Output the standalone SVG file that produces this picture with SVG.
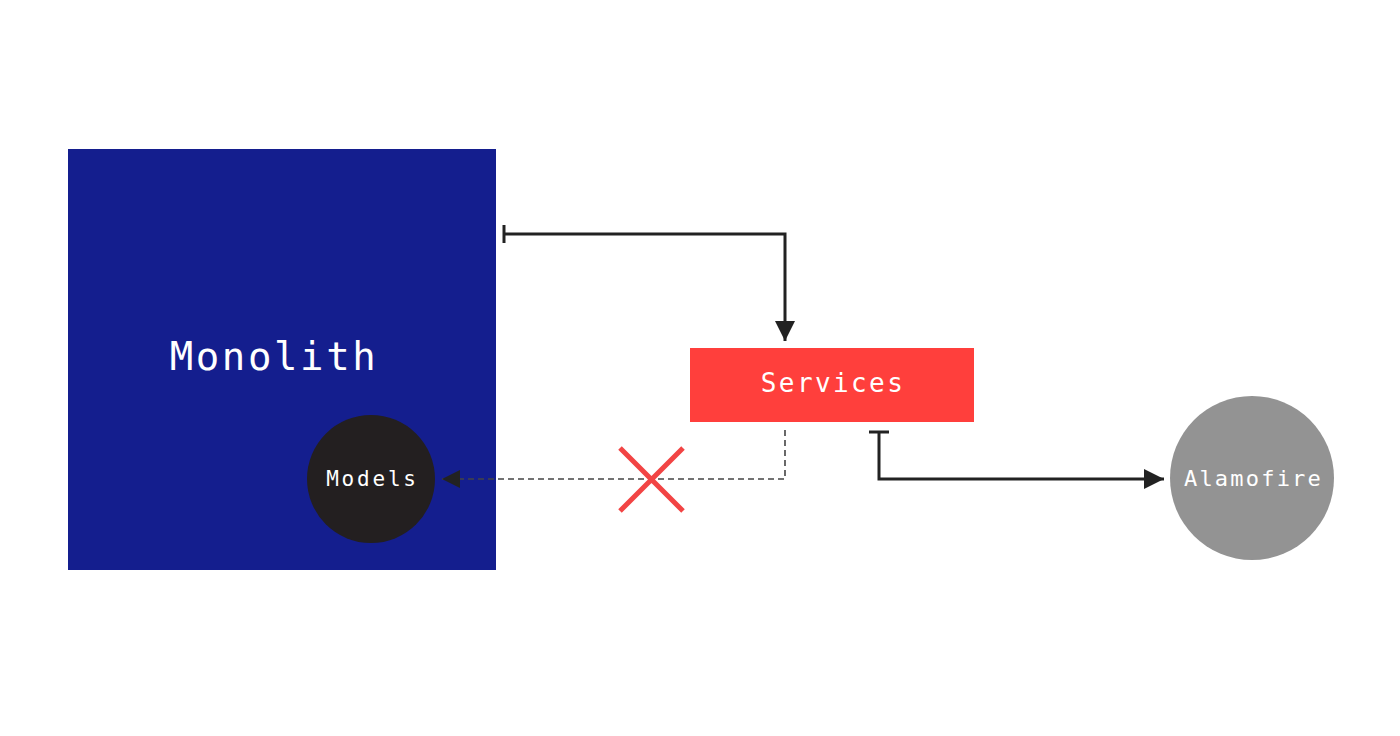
<svg xmlns="http://www.w3.org/2000/svg" width="1400" height="736" viewBox="0 0 1400 736">
<style>
.lbl{font-family:"DejaVu Sans Mono","Liberation Mono",monospace;fill:#ffffff;text-anchor:middle}
.solid{fill:none;stroke:#222222;stroke-width:3}
.dash{fill:none;stroke:#444444;stroke-width:1.6;stroke-dasharray:6 4}
</style>
<defs>
<marker id="arr" viewBox="0 0 20 20" refX="20" refY="10" markerWidth="20" markerHeight="20" markerUnits="userSpaceOnUse" orient="auto">
<path d="M0,0 L20,10 L0,20 Z" fill="#222222"/>
</marker>
<marker id="arrs" viewBox="0 0 18 18" refX="18" refY="9" markerWidth="18" markerHeight="18" markerUnits="userSpaceOnUse" orient="auto">
<path d="M0,0 L18,9 L0,18 Z" fill="#222222"/>
</marker>
</defs>
<rect width="1400" height="736" fill="#ffffff"/>
<g id="monolith">
<rect x="68" y="149" width="428" height="421" fill="#141E8E"/>
<text class="lbl" x="274" y="370" font-size="39" letter-spacing="2.6">Monolith</text>
</g>
<g id="models">
<circle cx="371" cy="479" r="64" fill="#231F20"/>
<text class="lbl" x="372.5" y="486" font-size="21" letter-spacing="2.8">Models</text>
</g>
<g id="services">
<rect x="690" y="348" width="284" height="74" fill="#FF3F3C"/>
<text class="lbl" x="833" y="392" font-size="26" letter-spacing="2.4">Services</text>
</g>
<g id="alamofire">
<circle cx="1252" cy="478" r="82" fill="#939393"/>
<text class="lbl" x="1253.5" y="486" font-size="22" letter-spacing="2.2">Alamofire</text>
</g>
<g id="connectors">
<path class="solid" d="M504,225 V243"/>
<path class="solid" d="M504,234 H785 V341" marker-end="url(#arr)"/>
<path class="dash" d="M785,430 V479 H442" marker-end="url(#arrs)"/>
<path class="solid" d="M869,432 H889"/>
<path class="solid" d="M879,432 V479 H1164" marker-end="url(#arr)"/>
<path d="M620,448 L683,511 M683,448 L620,511" fill="none" stroke="#F24444" stroke-width="5"/>
</g>
</svg>
